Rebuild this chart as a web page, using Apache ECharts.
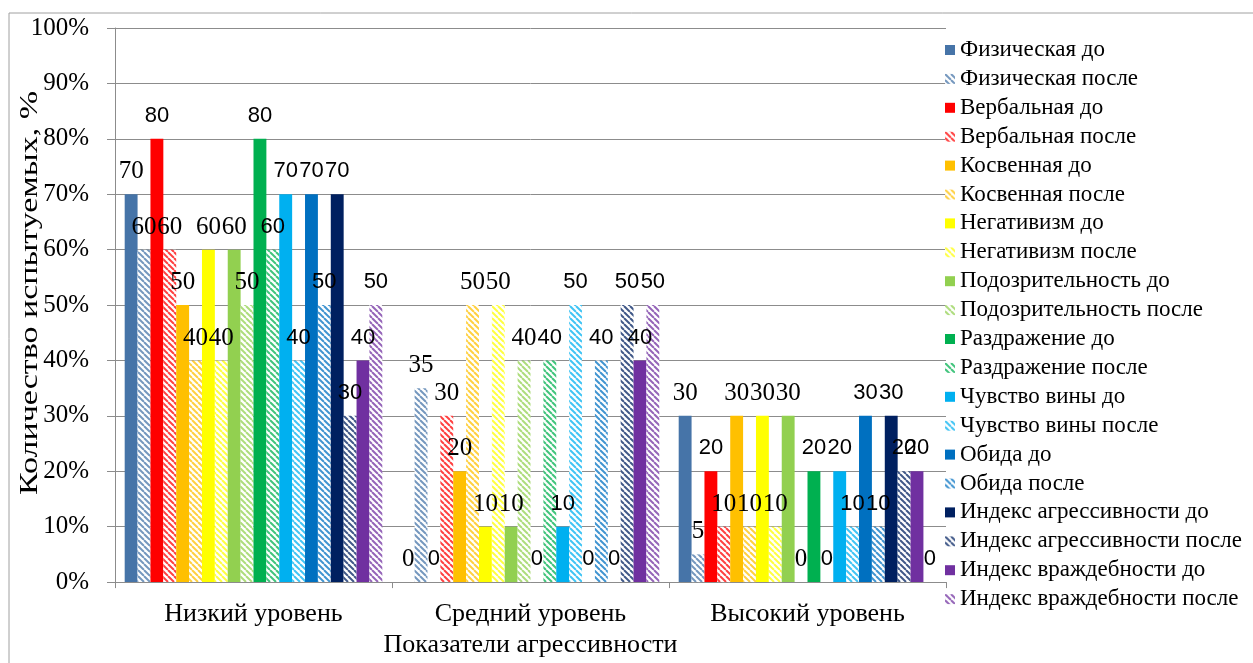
<!DOCTYPE html>
<html>
<head>
<meta charset="utf-8">
<script src="https://cdn.jsdelivr.net/npm/echarts@6/dist/echarts.min.js"></script>
<style>
  html, body { margin: 0; padding: 0; background: #fff; }
  #chart { width: 1253px; height: 663px; }
</style>
</head>
<body>
<div id="chart"></div>
<script>
// categories on the x axis
const categories = ['Низкий уровень', 'Средний уровень', 'Высокий уровень'];

// series names (до / после pairs)
const seriesNames = [
  'Физическая до', 'Физическая после',
  'Вербальная до', 'Вербальная после',
  'Косвенная до', 'Косвенная после',
  'Негативизм до', 'Негативизм после',
  'Подозрительность до', 'Подозрительность после',
  'Раздражение до', 'Раздражение после',
  'Чувство вины до', 'Чувство вины после',
  'Обида до', 'Обида после',
  'Индекс агрессивности до', 'Индекс агрессивности после',
  'Индекс враждебности до', 'Индекс враждебности после'
];

// values per series: [низкий, средний, высокий]
const fizDo = [70, 0, 30];
const fizPosle = [60, 35, 5];
const verbDo = [80, 0, 20];
const verbPosle = [60, 30, 10];
const kosvDo = [50, 20, 30];
const kosvPosle = [40, 50, 10];
const negDo = [60, 10, 30];
const negPosle = [40, 50, 10];
const podDo = [60, 10, 30];
const podPosle = [50, 40, 0];
const razDo = [80, 0, 20];
const razPosle = [60, 40, 0];
const vinaDo = [70, 10, 20];
const vinaPosle = [40, 50, 10];
const obidaDo = [70, 0, 30];
const obidaPosle = [50, 40, 10];
const agrDo = [70, 0, 30];
const agrPosle = [30, 50, 20];
const vrazhDo = [40, 40, 20];
const vrazhPosle = [50, 50, 0];

const seriesValues = [
  fizDo, fizPosle, verbDo, verbPosle, kosvDo, kosvPosle, negDo, negPosle,
  podDo, podPosle, razDo, razPosle, vinaDo, vinaPosle, obidaDo, obidaPosle,
  agrDo, agrPosle, vrazhDo, vrazhPosle
];

// y axis tick labels
const yTicks = ['0%', '10%', '20%', '30%', '40%', '50%', '60%', '70%', '80%', '90%', '100%'];

const yTitle = 'Количество испытуемых, %';
const xTitle = 'Показатели агрессивности';

// one base colour per indicator
const baseColors = [
  '#4674A8', '#FF0000', '#FFC000', '#FFFF00', '#92D050',
  '#00B050', '#00B0F0', '#0070C0', '#002060', '#7030A0'
];

const SERIF = '"Liberation Serif", "Times New Roman", serif';
const SANS = '"Liberation Sans", Arial, sans-serif';

// diagonal hatch pattern for the "после" bars
function hatch(color) {
  const c = document.createElement('canvas');
  c.width = 6;
  c.height = 6;
  const ctx = c.getContext('2d');
  ctx.fillStyle = '#fff';
  ctx.fillRect(0, 0, 6, 6);
  ctx.strokeStyle = color;
  ctx.globalAlpha = 0.75;
  ctx.lineWidth = 2;
  for (let x = -6; x <= 6; x += 6) {
    ctx.beginPath();
    ctx.moveTo(x, 0);
    ctx.lineTo(x + 6, 6);
    ctx.stroke();
  }
  return { image: c, repeat: 'repeat' };
}

const chart = echarts.init(document.getElementById('chart'));

const series = seriesNames.map((name, i) => {
  const base = baseColors[Math.floor(i / 2)];
  const after = i % 2 === 1;
  const sans = i === 2 || i >= 10;
  return {
    name: name,
    type: 'bar',
    data: seriesValues[i],
    barGap: '0%',
    barCategoryGap: '7%',
    itemStyle: { color: after ? hatch(base) : base },
    label: {
      show: true,
      position: 'top',
      distance: sans ? 12 : 10,
      color: '#000',
      fontSize: sans ? 22 : 25,
      fontFamily: sans ? SANS : SERIF
    },
    emphasis: { disabled: true }
  };
});

const option = {
  animation: false,
  backgroundColor: '#fff',
  textStyle: { fontFamily: SERIF },
  graphic: [
    {
      type: 'rect',
      silent: true,
      z: -10,
      shape: { x: 9, y: 13, width: 1300, height: 700 },
      style: { fill: 'none', stroke: '#a0a0a0', lineWidth: 1 }
    },
    {
      // y axis title, stretched along its length like the original
      type: 'text',
      silent: true,
      x: 30,
      y: 293,
      rotation: Math.PI / 2,
      scaleX: 1.36,
      style: {
        text: yTitle,
        font: '25px "Liberation Serif", serif',
        fill: '#000',
        align: 'center',
        verticalAlign: 'middle'
      }
    }
  ],
  grid: { left: 115, right: 307, top: 28, bottom: 73 },
  legend: {
    orient: 'vertical',
    left: 940,
    top: 33,
    icon: 'rect',
    itemWidth: 10,
    itemHeight: 10,
    itemGap: 4.9,
    selectedMode: false,
    textStyle: { fontFamily: SERIF, fontSize: 23, color: '#000', lineHeight: 24 },
    data: seriesNames
  },
  xAxis: {
    type: 'category',
    data: categories,
    name: xTitle,
    nameLocation: 'middle',
    nameGap: 47,
    nameTextStyle: { fontFamily: SERIF, fontSize: 26, color: '#000' },
    axisLine: { lineStyle: { color: '#8c8c8c' } },
    axisTick: { show: true, length: 6, lineStyle: { color: '#8c8c8c' } },
    axisLabel: { fontFamily: SERIF, fontSize: 26, color: '#000', margin: 19 }
  },
  yAxis: {
    type: 'value',
    min: 0,
    max: 100,
    interval: 10,
    axisLine: { show: true, lineStyle: { color: '#8c8c8c' } },
    axisTick: { show: true, length: 8, lineStyle: { color: '#8c8c8c' } },
    axisLabel: {
      fontFamily: SERIF,
      fontSize: 25,
      color: '#000',
      margin: 26,
      formatter: (v) => yTicks[Math.round(v / 10)]
    },
    splitLine: { lineStyle: { color: '#8c8c8c' } }
  },
  series: series
};

chart.setOption(option);
</script>
</body>
</html>
